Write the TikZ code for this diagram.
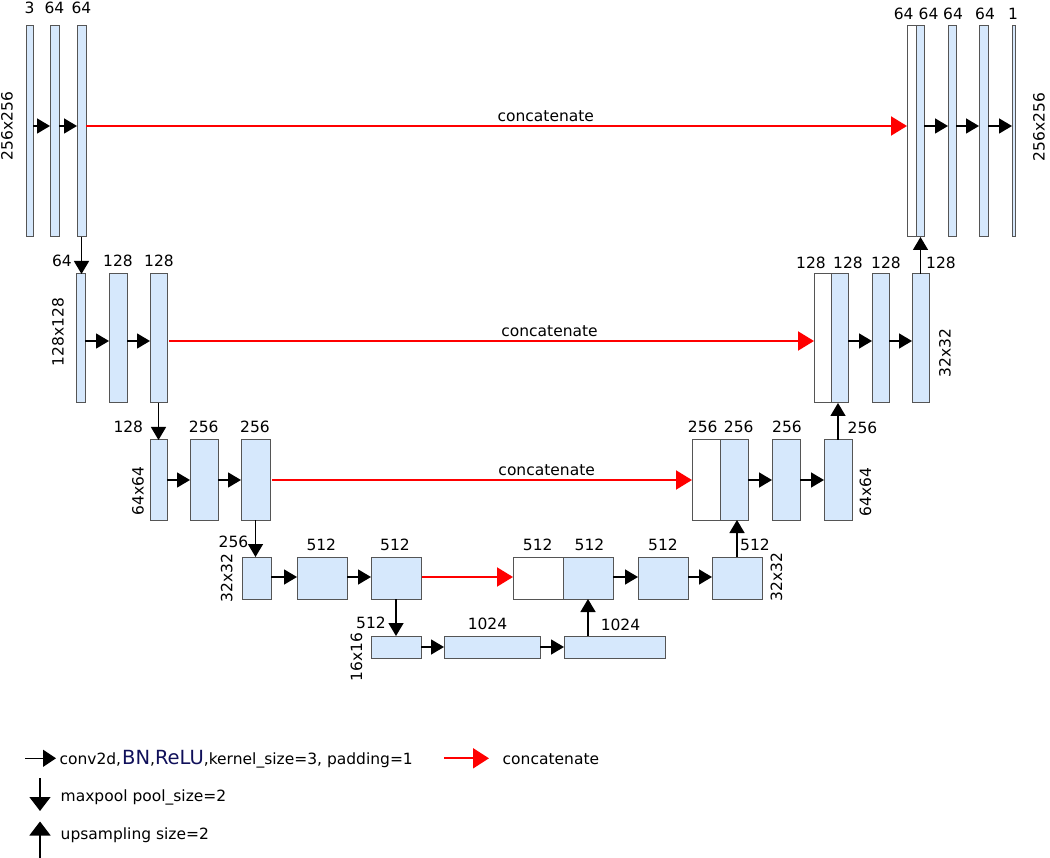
\documentclass[tikz,border=0pt]{standalone}
\usepackage{fontspec}
\setmainfont{DejaVu Sans}
\usetikzlibrary{arrows.meta}
\definecolor{boxblue}{HTML}{D6E8FC}
\definecolor{boxline}{HTML}{555555}
\definecolor{navyblue}{HTML}{10105A}
\newcommand\labfont{\fontsize{15.5}{18}\selectfont}
\newcommand\bigfont{\fontsize{19.5}{22}\selectfont}
\newcommand\mkblk[6]{\node[#6, minimum width={(#4-#2)*1pt}, minimum height={(#5-#3)*1pt}, anchor=north west] (#1) at (#2,#3) {};}
\tikzset{
  blk/.style={rectangle, draw=boxline, fill=boxblue, line width=1pt, inner sep=0pt, outer sep=0pt},
  wblk/.style={blk, fill=white},
  lab/.style={font=\labfont, inner sep=0pt, outer sep=0pt},
  rlab/.style={lab, rotate=90},
  conv/.style={draw=black, line width=1.5pt, -{Triangle[length=13pt,width=15pt]}},
  cat/.style={draw=red, line width=2pt, -{Triangle[length=16pt,width=19pt]}},
  legh/.style={draw=black, line width=1.5pt, -{Triangle[length=13pt,width=17pt]}},
  legv/.style={draw=black, line width=1.5pt, -{Triangle[length=14pt,width=21pt]}},
  legr/.style={draw=red, line width=2pt, -{Triangle[length=16pt,width=20pt]}},
}
\begin{document}
\begin{tikzpicture}[x=1pt,y=-1pt]
\useasboundingbox (0,0) rectangle (1050,858);
% ---------- blocks ----------
\mkblk{a1}{26}{26}{33}{237}{blk}
\mkblk{a2}{50}{26}{59}{237}{blk}
\mkblk{a3}{77}{26}{86}{237}{blk}
\mkblk{r1w}{907}{26}{916}{237}{wblk}
\mkblk{r1b}{916}{26}{924}{237}{blk}
\mkblk{r1c}{948}{26}{956}{237}{blk}
\mkblk{r1d}{979}{26}{988}{237}{blk}
\mkblk{r1e}{1012}{26}{1015}{237}{blk}
\mkblk{b1}{76}{274}{85}{403}{blk}
\mkblk{b2}{109}{274}{127}{403}{blk}
\mkblk{b3}{150}{274}{167}{403}{blk}
\mkblk{r2w}{814}{274}{831}{403}{wblk}
\mkblk{r2b}{831}{274}{848}{403}{blk}
\mkblk{r2c}{872}{274}{889}{403}{blk}
\mkblk{r2d}{912}{274}{929}{403}{blk}
\mkblk{c1}{150}{440}{167}{520}{blk}
\mkblk{c2}{190}{440}{218}{520}{blk}
\mkblk{c3}{241}{440}{270}{520}{blk}
\mkblk{r3w}{692}{440}{720}{520}{wblk}
\mkblk{r3b}{720}{440}{748}{520}{blk}
\mkblk{r3c}{772}{440}{800}{520}{blk}
\mkblk{r3d}{824}{440}{852}{520}{blk}
\mkblk{d1}{242}{557}{271}{599}{blk}
\mkblk{d2}{297}{557}{347}{599}{blk}
\mkblk{d3}{371}{557}{421}{599}{blk}
\mkblk{r4w}{513}{557}{563}{599}{wblk}
\mkblk{r4b}{563}{557}{613}{599}{blk}
\mkblk{r4c}{638}{557}{688}{599}{blk}
\mkblk{r4d}{712}{557}{762}{599}{blk}
\mkblk{e1}{371}{636}{421}{658}{blk}
\mkblk{e2}{444}{636}{540}{658}{blk}
\mkblk{e3}{564}{636}{665}{658}{blk}
% ---------- conv arrows ----------
\foreach \p/\q in {a1/a2,a2/a3,r1b/r1c,r1c/r1d,r1d/r1e}
  \draw[conv] ([yshift=5.5pt]\p.east) -- ([yshift=5.5pt]\q.west);
\foreach \p/\q in {b1/b2,b2/b3,r2b/r2c,r2c/r2d}
  \draw[conv] ([yshift=-2.5pt]\p.east) -- ([yshift=-2.5pt]\q.west);
\foreach \p/\q in {c1/c2,c2/c3,r3b/r3c,r3c/r3d}
  \draw[conv] (\p.east) -- (\q.west);
\foreach \p/\q in {d1/d2,d2/d3,r4b/r4c,r4c/r4d}
  \draw[conv] ([yshift=1pt]\p.east) -- ([yshift=1pt]\q.west);
\foreach \p/\q in {e1/e2,e2/e3}
  \draw[conv] (\p.east) -- (\q.west);
% ---------- concatenate arrows ----------
\draw[cat] ([yshift=5.5pt]a3.east) -- ([yshift=5.5pt]r1w.west)
  node[lab, pos=0.56, anchor=base, yshift=4.5pt, text=black] {concatenate};
\draw[cat] ([xshift=2pt,yshift=-2.5pt]b3.east) -- ([yshift=-2.5pt]r2w.west)
  node[lab, pos=0.59, anchor=base, yshift=4.5pt, text=black] {concatenate};
\draw[cat] ([xshift=2pt]c3.east) -- (r3w.west)
  node[lab, pos=0.654, anchor=base, yshift=4.5pt, text=black] {concatenate};
\draw[cat] ([xshift=1pt,yshift=1pt]d3.east) -- ([yshift=1pt]r4w.west);
% ---------- maxpool (down) ----------
\draw[conv] (a3.south) -- (a3.south |- b1.north);
\draw[conv] (b3.south) -- (b3.south |- c1.north);
\draw[conv] (c3.south) -- (c3.south |- d1.north);
\draw[conv] (d3.south) -- (d3.south |- e1.north);
% ---------- upsampling (up) ----------
\draw[conv] (r2d.north) -- (r2d.north |- r1b.south);
\draw[conv] (r3d.north) -- (r3d.north |- r2b.south);
\draw[conv] (r4d.north) -- (r4d.north |- r3b.south);
\draw[conv] (r4b.south |- e3.north) -- (r4b.south);
% ---------- channel labels ----------
\foreach \x/\y/\t in {29.5/13.3/3, 54.5/13.3/64, 81.5/13.3/64,
  903.7/20/64, 928.5/20/64, 953/20/64, 985/20/64, 1013/20/1,
  62/267/64, 118/267/128, 159/267/128,
  811/268.3/128, 848/268.3/128, 886/268.3/128, 941/268.3/128,
  128.3/432.7/128, 203.7/432.7/256, 255/432.7/256,
  702.7/432.7/256, 738.7/432.7/256, 787/432.7/256, 862.5/434/256,
  233.5/547/256, 321.3/550/512, 395/550/512, 537.7/550/512, 589.5/550/512, 663/550/512, 755/550/512,
  371/628/512, 487.5/629/1024, 620.5/630.7/1024}
  \node[lab, anchor=base] at (\x,\y) {\t};
% ---------- size labels ----------
\node[rlab] (s1) at (7,126) {256x256};
\node[rlab] (s2) at (1039,127) {256x256};
\node[rlab] (s3) at (58,332) {128x128};
\node[rlab] (s4) at (138,491) {64x64};
\node[rlab] (s5) at (945,353) {32x32};
\node[rlab] (s6) at (865.5,492) {64x64};
\node[rlab] (s7) at (226.7,578) {32x32};
\node[rlab] (s8) at (776.5,577) {32x32};
\node[rlab] (s9) at (356.5,656.7) {16x16};
% ---------- legend ----------
\coordinate (l1a) at (25,758.3);
\coordinate (l1b) at (56,758.3);
\draw[legh] (l1a) -- (l1b);
\node[lab, anchor=base west] (t1) at (59.5,764) {conv2d,\kern1pt{\bigfont\color{navyblue}BN},{\bigfont\color{navyblue}ReLU},kernel\_size=3, padding=1};
\coordinate (l2a) at (444,758.3);
\coordinate (l2b) at (489,758.3);
\draw[legr] (l2a) -- (l2b);
\node[lab, anchor=base west] (t2) at (502.7,764) {concatenate};
\coordinate (l3a) at (40,778);
\coordinate (l3b) at (40,811);
\draw[legv] (l3a) -- (l3b);
\node[lab, anchor=base west] (t3) at (60.7,801.5) {maxpool pool\_size=2};
\coordinate (l4a) at (40,858);
\coordinate (l4b) at (40,821.5);
\draw[legv] (l4a) -- (l4b);
\node[lab, anchor=base west] (t4) at (60.7,839) {upsampling size=2};
\end{tikzpicture}
\end{document}
